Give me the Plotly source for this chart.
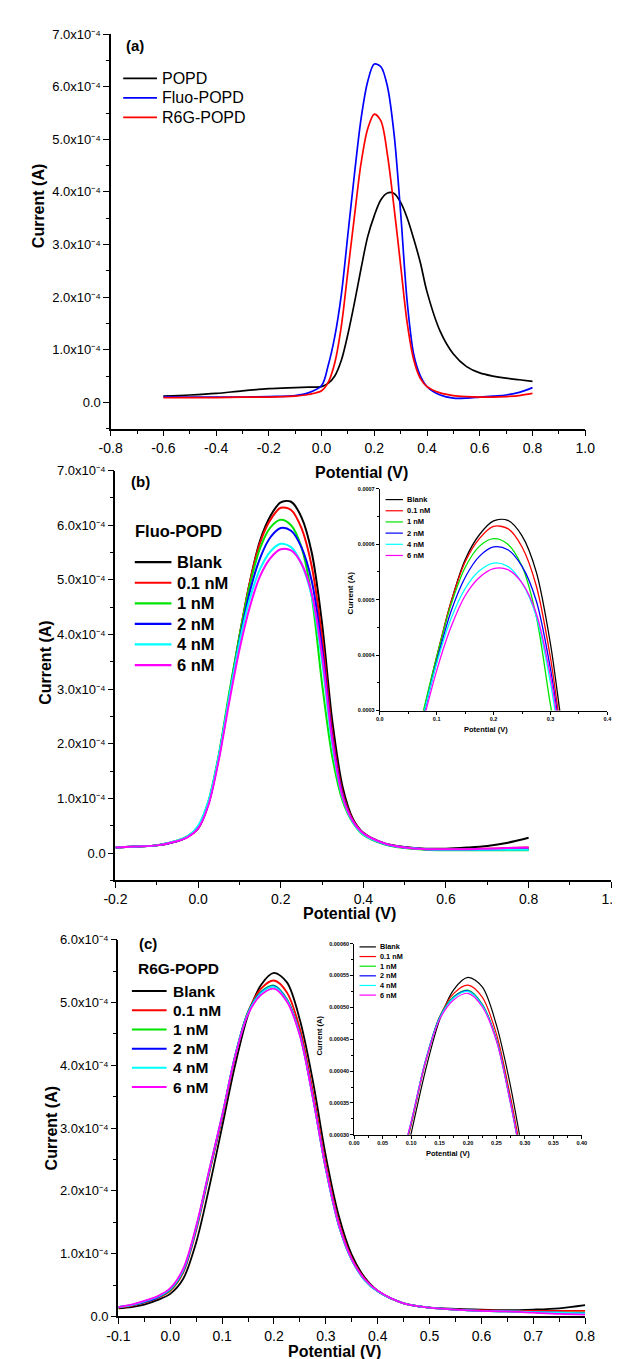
import plotly.graph_objects as go

SCALE = 1e-4  # values below are in units of 1e-4 A
W, H = 620, 1359
FONT = "Liberation Sans, Arial, sans-serif"

# ---------------- Panel (a) ----------------
a_names = ["POPD", "Fluo-POPD", "R6G-POPD"]
a_colors = ["#000000", "#0000FF", "#FF0000"]
a_x = [-0.6, -0.5, -0.4, -0.3, -0.2, -0.1, -0.05, 0.0, 0.025, 0.05, 0.075, 0.1, 0.125, 0.15, 0.175,
       0.2, 0.225, 0.25, 0.275, 0.3, 0.325, 0.35, 0.375, 0.4, 0.45, 0.5, 0.55, 0.6, 0.65, 0.7, 0.75, 0.8]
a_popd = [0.12, 0.14, 0.17, 0.22, 0.26, 0.28, 0.29, 0.30, 0.36, 0.50, 0.80, 1.30, 1.90, 2.55, 3.15,
          3.55, 3.85, 3.98, 3.97, 3.80, 3.50, 3.10, 2.65, 2.10, 1.35, 0.92, 0.68, 0.56, 0.50, 0.46, 0.43, 0.40]
a_fluo = [0.11, 0.10, 0.10, 0.10, 0.11, 0.13, 0.18, 0.32, 0.70, 1.25, 2.05, 3.20, 4.35, 5.40, 6.10,
          6.43, 6.38, 6.00, 5.10, 3.60, 1.90, 0.90, 0.50, 0.30, 0.14, 0.08, 0.08, 0.10, 0.12, 0.14, 0.19, 0.28]
a_r6g = [0.09, 0.09, 0.09, 0.10, 0.10, 0.12, 0.15, 0.22, 0.38, 0.75, 1.45, 2.50, 3.55, 4.55, 5.20,
         5.48, 5.35, 4.70, 3.70, 2.60, 1.50, 0.80, 0.45, 0.30, 0.18, 0.13, 0.11, 0.10, 0.10, 0.11, 0.13, 0.17]

# ---------------- Panel (b) Fluo-POPD ----------------
conc_names = ["Blank", "0.1 nM", "1 nM", "2 nM", "4 nM", "6 nM"]
conc_colors = ["#000000", "#FF0000", "#00E400", "#0000FF", "#00FFFF", "#FF00FF"]
b_x = [-0.2, -0.15, -0.1, -0.05, -0.025, 0.0, 0.025, 0.05, 0.075, 0.1, 0.125, 0.15, 0.175, 0.2, 0.225,
       0.25, 0.275, 0.3, 0.325, 0.35, 0.375, 0.4, 0.45, 0.5, 0.55, 0.6, 0.65, 0.7, 0.75, 0.8]
b_blank = [0.10, 0.12, 0.14, 0.22, 0.30, 0.45, 0.90, 1.75, 2.85, 3.95, 4.95, 5.72, 6.17, 6.42, 6.43,
           6.15, 5.50, 4.20, 2.40, 1.20, 0.62, 0.37, 0.18, 0.11, 0.08, 0.08, 0.10, 0.13, 0.19, 0.28]
b_01 = [0.10, 0.12, 0.14, 0.22, 0.30, 0.46, 0.92, 1.77, 2.87, 3.97, 4.95, 5.68, 6.10, 6.32, 6.28,
        5.95, 5.25, 3.95, 2.20, 1.10, 0.60, 0.36, 0.17, 0.10, 0.07, 0.07, 0.07, 0.08, 0.09, 0.10]
b_1 = [0.10, 0.12, 0.14, 0.23, 0.31, 0.48, 0.95, 1.80, 2.92, 3.97, 4.90, 5.58, 5.96, 6.10, 6.00,
       5.60, 4.70, 3.10, 1.75, 0.95, 0.55, 0.33, 0.16, 0.09, 0.06, 0.05, 0.05, 0.05, 0.05, 0.05]
b_2 = [0.10, 0.12, 0.14, 0.22, 0.30, 0.47, 0.92, 1.75, 2.83, 3.88, 4.78, 5.40, 5.78, 5.95, 5.90,
       5.60, 4.98, 3.75, 2.10, 1.05, 0.58, 0.35, 0.17, 0.10, 0.07, 0.06, 0.06, 0.06, 0.07, 0.07]
b_4 = [0.10, 0.12, 0.14, 0.23, 0.31, 0.50, 0.95, 1.78, 2.85, 3.85, 4.65, 5.20, 5.52, 5.66, 5.60,
       5.30, 4.70, 3.50, 1.95, 1.00, 0.56, 0.34, 0.17, 0.10, 0.07, 0.06, 0.06, 0.06, 0.06, 0.06]
b_6 = [0.10, 0.12, 0.14, 0.22, 0.29, 0.45, 0.88, 1.70, 2.75, 3.72, 4.50, 5.07, 5.40, 5.56, 5.54,
       5.30, 4.75, 3.62, 2.05, 1.02, 0.58, 0.36, 0.18, 0.10, 0.07, 0.07, 0.07, 0.08, 0.09, 0.10]

# ---------------- Panel (c) R6G-POPD ----------------
c_x = [-0.1, -0.075, -0.05, -0.025, 0.0, 0.025, 0.05, 0.075, 0.1, 0.125, 0.15, 0.175, 0.2, 0.225, 0.25,
       0.275, 0.3, 0.325, 0.35, 0.375, 0.4, 0.45, 0.5, 0.55, 0.6, 0.65, 0.7, 0.75, 0.8]
c_blank = [0.13, 0.15, 0.19, 0.26, 0.36, 0.60, 1.18, 2.05, 3.02, 4.00, 4.80, 5.28, 5.47, 5.32, 4.72,
           3.75, 2.55, 1.60, 0.98, 0.62, 0.41, 0.21, 0.14, 0.12, 0.11, 0.10, 0.11, 0.13, 0.18]
c_01 = [0.14, 0.17, 0.22, 0.29, 0.41, 0.70, 1.37, 2.27, 3.15, 4.12, 4.85, 5.22, 5.35, 5.16, 4.58,
        3.58, 2.42, 1.50, 0.93, 0.60, 0.40, 0.21, 0.14, 0.11, 0.10, 0.09, 0.09, 0.09, 0.09]
c_1 = [0.15, 0.18, 0.23, 0.30, 0.42, 0.72, 1.40, 2.30, 3.18, 4.15, 4.85, 5.17, 5.27, 5.05, 4.50,
       3.50, 2.35, 1.45, 0.90, 0.58, 0.40, 0.21, 0.14, 0.11, 0.09, 0.08, 0.07, 0.06, 0.06]
c_2 = [0.15, 0.18, 0.23, 0.30, 0.43, 0.73, 1.41, 2.31, 3.19, 4.15, 4.84, 5.16, 5.26, 5.04, 4.49,
       3.49, 2.35, 1.45, 0.90, 0.58, 0.40, 0.21, 0.14, 0.11, 0.09, 0.08, 0.07, 0.06, 0.05]
c_4 = [0.15, 0.18, 0.24, 0.31, 0.44, 0.74, 1.42, 2.32, 3.20, 4.15, 4.83, 5.15, 5.25, 5.03, 4.48,
       3.48, 2.34, 1.45, 0.90, 0.58, 0.40, 0.21, 0.14, 0.11, 0.09, 0.08, 0.07, 0.06, 0.05]
c_6 = [0.15, 0.19, 0.25, 0.32, 0.45, 0.76, 1.44, 2.33, 3.20, 4.14, 4.81, 5.12, 5.22, 5.01, 4.47,
       3.48, 2.35, 1.46, 0.91, 0.59, 0.41, 0.21, 0.14, 0.11, 0.09, 0.08, 0.06, 0.04, 0.03]

# ---------------- Tick labels ----------------
main_yvals_7 = [0, 1e-4, 2e-4, 3e-4, 4e-4, 5e-4, 6e-4, 7e-4]
main_ytext_7 = ["0.0", "1.0x10\u207b\u2074", "2.0x10\u207b\u2074", "3.0x10\u207b\u2074",
                "4.0x10\u207b\u2074", "5.0x10\u207b\u2074", "6.0x10\u207b\u2074", "7.0x10\u207b\u2074"]
main_yvals_6 = main_yvals_7[:7]
main_ytext_6 = main_ytext_7[:7]
a_xticks = [-0.8, -0.6, -0.4, -0.2, 0.0, 0.2, 0.4, 0.6, 0.8, 1.0]
a_xtext = ["-0.8", "-0.6", "-0.4", "-0.2", "0.0", "0.2", "0.4", "0.6", "0.8", "1.0"]
b_xticks = [-0.2, 0.0, 0.2, 0.4, 0.6, 0.8, 1.0]
b_xtext = ["-0.2", "0.0", "0.2", "0.4", "0.6", "0.8", "1.0"]
c_xticks = [-0.1, 0.0, 0.1, 0.2, 0.3, 0.4, 0.5, 0.6, 0.7, 0.8]
c_xtext = ["-0.1", "0.0", "0.1", "0.2", "0.3", "0.4", "0.5", "0.6", "0.7", "0.8"]
ib_xticks = [0.0, 0.1, 0.2, 0.3, 0.4]
ib_xtext = ["0.0", "0.1", "0.2", "0.3", "0.4"]
ib_yticks = [3e-4, 4e-4, 5e-4, 6e-4, 7e-4]
ib_ytext = ["0.0003", "0.0004", "0.0005", "0.0006", "0.0007"]
ic_xticks = [0.0, 0.05, 0.1, 0.15, 0.2, 0.25, 0.3, 0.35, 0.4]
ic_xtext = ["0.00", "0.05", "0.10", "0.15", "0.20", "0.25", "0.30", "0.35", "0.40"]
ic_yticks = [3e-4, 3.5e-4, 4e-4, 4.5e-4, 5e-4, 5.5e-4, 6e-4]
ic_ytext = ["0.00030", "0.00035", "0.00040", "0.00045", "0.00050", "0.00055", "0.00060"]


def PX(x):
    return x / W


def PY(y):
    return 1 - y / H


fig = go.Figure()


def add(xs, vals, color, width, xa, ya):
    fig.add_trace(go.Scatter(x=xs, y=[v * SCALE for v in vals], mode="lines",
                             line=dict(color=color, width=width, shape="spline", smoothing=0.9),
                             xaxis=xa, yaxis=ya, showlegend=False, hoverinfo="skip"))


for vals, col in zip([a_popd, a_fluo, a_r6g], a_colors):
    add(a_x, vals, col, 1.7, "x", "y")

b_series = [b_blank, b_01, b_1, b_2, b_4, b_6]
c_series = [c_blank, c_01, c_1, c_2, c_4, c_6]
for vals, col in zip(b_series, conc_colors):
    add(b_x, vals, col, 2.0, "x2", "y2")
for vals, col in zip(b_series, conc_colors):
    add(b_x, vals, col, 1.3, "x3", "y3")
for vals, col in zip(c_series, conc_colors):
    add(c_x, vals, col, 1.8, "x4", "y4")
for vals, col in zip(c_series, conc_colors):
    add(c_x, vals, col, 1.2, "x5", "y5")


def main_axis(domain, rng, vals, text, anchor, size, minor_dt):
    return dict(domain=domain, range=rng, anchor=anchor, tickmode="array", tickvals=vals, ticktext=text,
                showline=True, linecolor="black", linewidth=1.5, ticks="outside", ticklen=5.5,
                tickwidth=1.3, tickcolor="black", showgrid=False, zeroline=False,
                tickfont=dict(family=FONT, size=size, color="black"),
                minor=dict(ticks="outside", ticklen=3.3, tickwidth=1.2, tickcolor="black",
                           tickmode="linear", tick0=0, dtick=minor_dt, showgrid=False))


def inset_axis(domain, rng, vals, text, anchor, size, minor_dt):
    return dict(domain=domain, range=rng, anchor=anchor, tickmode="array", tickvals=vals, ticktext=text,
                showline=True, linecolor="black", linewidth=1, ticks="outside", ticklen=3,
                tickwidth=1, tickcolor="black", showgrid=False, zeroline=False,
                tickfont=dict(family=FONT, size=size, color="black", weight="bold"),
                minor=dict(ticks="outside", ticklen=2, tickwidth=0.8, tickcolor="black",
                           tickmode="linear", tick0=0, dtick=minor_dt, showgrid=False))


fig.update_layout(
    width=W, height=H, margin=dict(l=0, r=0, t=0, b=0),
    paper_bgcolor="white", plot_bgcolor="rgba(0,0,0,0)", showlegend=False,
    xaxis=main_axis([PX(94), PX(586)], [-0.8, 1.0], a_xticks, a_xtext, "y", 14, 0.1),
    yaxis=main_axis([PY(418.3), PY(19.3)], [-0.5e-4, 7e-4], main_yvals_7, main_ytext_7, "x", 13, 0.5e-4),
    xaxis2=main_axis([PX(99), PX(613)], [-0.2, 1.0], b_xticks, b_xtext, "y2", 14, 0.1),
    yaxis2=main_axis([PY(875), PY(460.7)], [-0.5e-4, 7e-4], main_yvals_7, main_ytext_7, "x2", 13, 0.5e-4),
    xaxis3=inset_axis([PX(373), PX(609)], [0, 0.4], ib_xticks, ib_xtext, "y3", 5.5, 0.05),
    yaxis3=inset_axis([PY(703.3), PY(479)], [3e-4, 7e-4], ib_yticks, ib_ytext, "x3", 5.5, 0.5e-4),
    xaxis4=main_axis([PX(102), PX(586)], [-0.1, 0.8], c_xticks, c_xtext, "y4", 14, 0.05),
    yaxis4=main_axis([PY(1316), PY(935)], [0, 6e-4], main_yvals_6, main_ytext_6, "x4", 13, 0.5e-4),
    xaxis5=inset_axis([PX(346.5), PX(582.5)], [0, 0.4], ic_xticks, ic_xtext, "y5", 5.5, 0.025),
    yaxis5=inset_axis([PY(1132.3), PY(939)], [3e-4, 6e-4], ic_yticks, ic_ytext, "x5", 5.5, 0.25e-4),
)

annotations = []
shapes = []


def text(x, y, s, size, bold=False, angle=0, anchor="left"):
    annotations.append(dict(x=PX(x), y=PY(y), xref="paper", yref="paper", text=(f"<b>{s}</b>" if bold else s),
                            showarrow=False, xanchor=anchor, yanchor="middle", textangle=angle,
                            font=dict(family=FONT, size=size, color="black")))


def legend(names, colors, x0, x1, xt, y0, dy, size, bold, lw):
    for i, (n, c) in enumerate(zip(names, colors)):
        y = y0 + i * dy
        shapes.append(dict(type="line", xref="paper", yref="paper", x0=PX(x0), x1=PX(x1), y0=PY(y), y1=PY(y),
                           line=dict(color=c, width=lw)))
        text(xt, y, n, size, bold)


# panel labels
text(108, 31, "(a)", 15, True)
text(113, 472, "(b)", 15, True)
text(121, 939, "(c)", 15, True)
# axis titles
text(20, 193, "Current (A)", 16, True, -90, "center")
text(354, 463, "Potential (V)", 16, True, 0, "center")
text(27, 655, "Current (A)", 16, True, -90, "center")
text(342, 909, "Potential (V)", 16, True, 0, "center")
text(33, 1126, "Current (A)", 16, True, -90, "center")
text(326, 1351, "Potential (V)", 16, True, 0, "center")
# inset titles
text(483, 722, "Potential (V)", 7.5, True, 0, "center")
text(343, 584, "Current (A)", 8, True, -90, "center")
text(444, 1151, "Potential (V)", 7.5, True, 0, "center")
text(311, 1032, "Current (A)", 7.5, True, -90, "center")
# legends
legend(a_names, a_colors, 107, 142, 145.5, 64, 19.8, 16, False, 1.7)
text(117, 522, "Fluo-POPD", 16.5, True)
legend(conc_names, conc_colors, 119, 157, 161, 553.3, 20.8, 16.5, True, 2.2)
text(120, 964, "R6G-POPD", 15.5, True)
legend(conc_names, conc_colors, 116, 152, 157, 987, 19.4, 15.5, True, 2.0)
legend(conc_names, conc_colors, 379, 397, 399, 490, 11.3, 7.5, True, 1.2)
legend(conc_names, conc_colors, 352, 369, 371.5, 942.3, 9.75, 7.3, True, 1.2)

fig.update_layout(annotations=annotations, shapes=shapes)
fig.write_html("out.html")
